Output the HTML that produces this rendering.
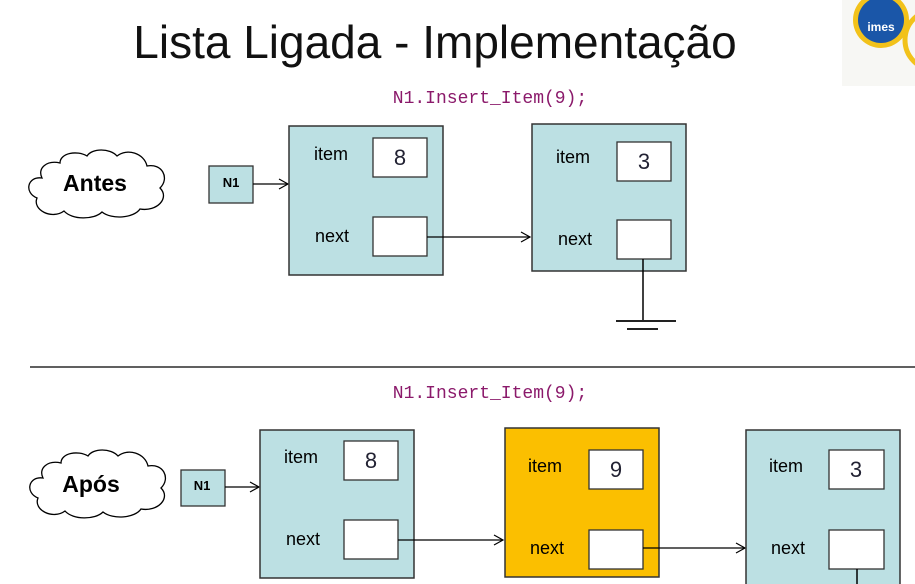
<!DOCTYPE html>
<html><head><meta charset="utf-8"><style>
body{margin:0;width:915px;height:584px;overflow:hidden;background:#fff;position:relative;font-family:"Liberation Sans",sans-serif}
</style></head><body>
<svg width="915" height="584" viewBox="0 0 915 584" xmlns="http://www.w3.org/2000/svg" style="position:absolute;left:0;top:0">
<defs>
<path id="cloud" d="M20,30 C5,28 2,45 15,50 C10,62 30,72 42,63 C50,72 72,72 80,64 C90,72 112,70 118,61 C135,64 148,50 138,40 C148,30 140,15 125,18 C122,5 105,0 95,8 C88,0 70,0 65,8 C55,2 38,5 38,15 C25,12 15,20 20,30 Z" fill="#fff" stroke="#000" stroke-width="1.3"/>
<marker id="ar" markerWidth="12" markerHeight="12" refX="10" refY="6" orient="auto" markerUnits="userSpaceOnUse"><path d="M1,1 L10,6 L1,11" fill="none" stroke="#000" stroke-width="1.2"/></marker>
</defs>
<!-- logo -->
<rect x="842" y="0" width="73" height="86" fill="#f7f7f4"/>
<circle cx="881" cy="20" r="28" fill="#f2c21a"/>
<circle cx="881" cy="20" r="23" fill="#1a56a8"/>
<text x="881" y="31" font-size="12" font-weight="bold" fill="#fff" text-anchor="middle" font-family="Liberation Sans,sans-serif">imes</text>
<circle cx="935" cy="40" r="30" fill="none" stroke="#f2c21a" stroke-width="5"/>
<!-- title -->
<text x="435" y="58" font-size="46" text-anchor="middle" fill="#111" font-family="Liberation Sans Narrow,Liberation Sans,sans-serif">Lista Ligada - Implementação</text>
<text x="490" y="103" font-size="18" text-anchor="middle" fill="#8b1a6b" font-family="Liberation Mono,monospace">N1.Insert_Item(9);</text>
<text x="490" y="398" font-size="18" text-anchor="middle" fill="#8b1a6b" font-family="Liberation Mono,monospace">N1.Insert_Item(9);</text>
<line x1="30" y1="367" x2="915" y2="367" stroke="#000" stroke-width="1.3"/>
<g font-family="Liberation Sans,sans-serif" fill="#000">
<!-- top -->
<use href="#cloud" transform="translate(22,148)"/>
<text x="95" y="191" font-size="23" font-weight="bold" text-anchor="middle">Antes</text>
<rect x="209" y="166" width="44" height="37" fill="#bce0e3" stroke="#333" stroke-width="1.3"/>
<text x="231" y="187" font-size="13" font-weight="bold" text-anchor="middle">N1</text>
<line x1="253" y1="184" x2="288" y2="184" stroke="#000" stroke-width="1.2" marker-end="url(#ar)"/>
<rect x="289" y="126" width="154" height="149" fill="#bce0e3" stroke="#333" stroke-width="1.5"/>
<text x="314" y="160" font-size="18">item</text>
<rect x="373" y="138" width="54" height="39" fill="#fff" stroke="#333" stroke-width="1.3"/>
<text x="400" y="165" font-size="22" text-anchor="middle" fill="#223">8</text>
<text x="315" y="242" font-size="18">next</text>
<rect x="373" y="217" width="54" height="39" fill="#fff" stroke="#333" stroke-width="1.3"/>
<line x1="427" y1="237" x2="530" y2="237" stroke="#000" stroke-width="1.2" marker-end="url(#ar)"/>
<rect x="532" y="124" width="154" height="147" fill="#bce0e3" stroke="#333" stroke-width="1.5"/>
<text x="556" y="163" font-size="18">item</text>
<rect x="617" y="142" width="54" height="39" fill="#fff" stroke="#333" stroke-width="1.3"/>
<text x="644" y="169" font-size="22" text-anchor="middle" fill="#223">3</text>
<text x="558" y="245" font-size="18">next</text>
<rect x="617" y="220" width="54" height="39" fill="#fff" stroke="#333" stroke-width="1.3"/>
<line x1="643" y1="259" x2="643" y2="321" stroke="#000" stroke-width="1.5"/>
<line x1="616" y1="321" x2="676" y2="321" stroke="#222" stroke-width="2"/>
<line x1="627" y1="329" x2="658" y2="329" stroke="#222" stroke-width="2"/>
<!-- bottom -->
<use href="#cloud" transform="translate(23,448)"/>
<text x="91" y="492" font-size="23" font-weight="bold" text-anchor="middle">Após</text>
<rect x="181" y="470" width="44" height="36" fill="#bce0e3" stroke="#333" stroke-width="1.3"/>
<text x="202" y="490" font-size="13" font-weight="bold" text-anchor="middle">N1</text>
<line x1="225" y1="487" x2="259" y2="487" stroke="#000" stroke-width="1.2" marker-end="url(#ar)"/>
<rect x="260" y="430" width="154" height="148" fill="#bce0e3" stroke="#333" stroke-width="1.5"/>
<text x="284" y="463" font-size="18">item</text>
<rect x="344" y="441" width="54" height="39" fill="#fff" stroke="#333" stroke-width="1.3"/>
<text x="371" y="468" font-size="22" text-anchor="middle" fill="#223">8</text>
<text x="286" y="545" font-size="18">next</text>
<rect x="344" y="520" width="54" height="39" fill="#fff" stroke="#333" stroke-width="1.3"/>
<line x1="398" y1="540" x2="503" y2="540" stroke="#000" stroke-width="1.2" marker-end="url(#ar)"/>
<rect x="505" y="428" width="154" height="149" fill="#fbbf00" stroke="#333" stroke-width="1.5"/>
<text x="528" y="472" font-size="18">item</text>
<rect x="589" y="450" width="54" height="39" fill="#fff" stroke="#333" stroke-width="1.3"/>
<text x="616" y="477" font-size="22" text-anchor="middle" fill="#223">9</text>
<text x="530" y="554" font-size="18">next</text>
<rect x="589" y="530" width="54" height="39" fill="#fff" stroke="#333" stroke-width="1.3"/>
<line x1="643" y1="548" x2="745" y2="548" stroke="#000" stroke-width="1.2" marker-end="url(#ar)"/>
<rect x="746" y="430" width="154" height="156" fill="#bce0e3" stroke="#333" stroke-width="1.5"/>
<text x="769" y="472" font-size="18">item</text>
<rect x="829" y="450" width="55" height="39" fill="#fff" stroke="#333" stroke-width="1.3"/>
<text x="856" y="477" font-size="22" text-anchor="middle" fill="#223">3</text>
<text x="771" y="554" font-size="18">next</text>
<rect x="829" y="530" width="55" height="39" fill="#fff" stroke="#333" stroke-width="1.3"/>
<line x1="857" y1="569" x2="857" y2="584" stroke="#000" stroke-width="1.5"/>
</g>
</svg>
</body></html>
